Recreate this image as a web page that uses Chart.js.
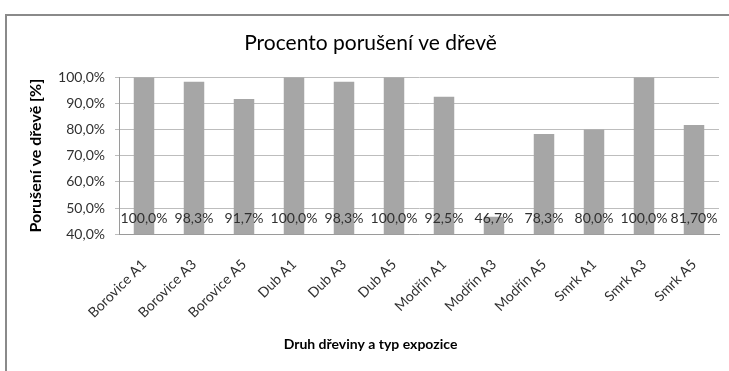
<!DOCTYPE html>
<html>
<head>
<meta charset="utf-8">
<script src="https://cdn.jsdelivr.net/npm/chart.js@4.4.1/dist/chart.umd.min.js"></script>
<style>
  html, body { margin: 0; padding: 0; background: #fff; overflow: hidden; }
  #wrap { position: relative; width: 729px; height: 371px; }
  #ramecek { position: absolute; left: 5px; top: 14px; width: 800px; height: 400px;
             border-top: 2px solid #8a8a8a; border-left: 2px solid #8a8a8a; }
  canvas { position: absolute; left: 0; top: 0; }
</style>
</head>
<body>
<div id="wrap">
  <div id="ramecek"></div>
  <canvas id="graf" width="729" height="371"></canvas>
</div>
<script>
// data z grafu
const kategorie = ['Borovice A1', 'Borovice A3', 'Borovice A5', 'Dub A1', 'Dub A3', 'Dub A5',
                   'Modřín A1', 'Modřín A3', 'Modřín A5', 'Smrk A1', 'Smrk A3', 'Smrk A5'];
const hodnoty = [100.0, 98.3, 91.7, 100.0, 98.3, 100.0, 92.5, 46.7, 78.3, 80.0, 100.0, 81.7];
const popisky = ['100,0%', '98,3%', '91,7%', '100,0%', '98,3%', '100,0%',
                 '92,5%', '46,7%', '78,3%', '80,0%', '100,0%', '81,70%'];
const osaY = [40, 50, 60, 70, 80, 90, 100];

const pismo = 'Lato, "Liberation Sans", Arial, sans-serif';
const barvaTextu = '#303030';

// popisky hodnot nad základnou sloupců
const popiskyPlugin = {
    id: 'popiskyHodnot',
    afterDatasetsDraw(chart) {
        const ctx = chart.ctx;
        const meta = chart.getDatasetMeta(0);
        const y = chart.scales.y.getPixelForValue(osaY[0]) - 16;
        ctx.save();
        ctx.font = '14px ' + pismo;
        ctx.fillStyle = barvaTextu;
        ctx.textAlign = 'center';
        ctx.textBaseline = 'middle';
        meta.data.forEach((bar, i) => {
            ctx.fillText(popisky[i], bar.x, y);
        });
        ctx.restore();
    }
};

new Chart(document.getElementById('graf'), {
    type: 'bar',
    data: {
        labels: kategorie,
        datasets: [{
            data: hodnoty,
            backgroundColor: '#a6a6a6',
            barPercentage: 0.41,
            categoryPercentage: 1.0
        }]
    },
    options: {
        responsive: false,
        animation: false,
        layout: { padding: { left: 22, right: 10, top: 0, bottom: 0 } },
        plugins: {
            legend: { display: false },
            tooltip: { enabled: false },
            title: {
                display: true,
                text: 'Procento porušení ve dřevě',
                color: '#000',
                font: { family: pismo, size: 21, weight: 'normal' },
                padding: { top: 31, bottom: 21 }
            },
            subtitle: {
                display: true,
                position: 'bottom',
                text: 'Druh dřeviny a typ expozice',
                color: '#000',
                font: { family: pismo, size: 14, weight: 'bold' },
                padding: { top: 4, bottom: 18 }
            }
        },
        scales: {
            x: {
                grid: { display: false },
                border: { display: true, color: '#9a9a9a' },
                ticks: {
                    autoSkip: false,
                    maxRotation: 45,
                    minRotation: 45,
                    padding: 14,
                    color: barvaTextu,
                    font: { family: pismo, size: 14 }
                },
                afterFit(scale) { scale.height = 98; }
            },
            y: {
                min: osaY[0],
                max: osaY[osaY.length - 1],
                afterBuildTicks(scale) { scale.ticks = osaY.map(v => ({ value: v })); },
                grid: { color: '#bdbdbd', tickLength: 4 },
                border: { display: true, color: '#9a9a9a' },
                ticks: {
                    padding: 10,
                    color: barvaTextu,
                    font: { family: pismo, size: 14 },
                    callback: v => v.toFixed(1).replace('.', ',') + '%'
                },
                title: {
                    display: true,
                    text: 'Porušení ve dřevě [%]',
                    color: '#000',
                    font: { family: pismo, size: 16, weight: 'bold' },
                    padding: { top: 4, bottom: 0 }
                },
                afterFit(scale) { scale.width = 97; }
            }
        }
    },
    plugins: [popiskyPlugin]
});
</script>
</body>
</html>
